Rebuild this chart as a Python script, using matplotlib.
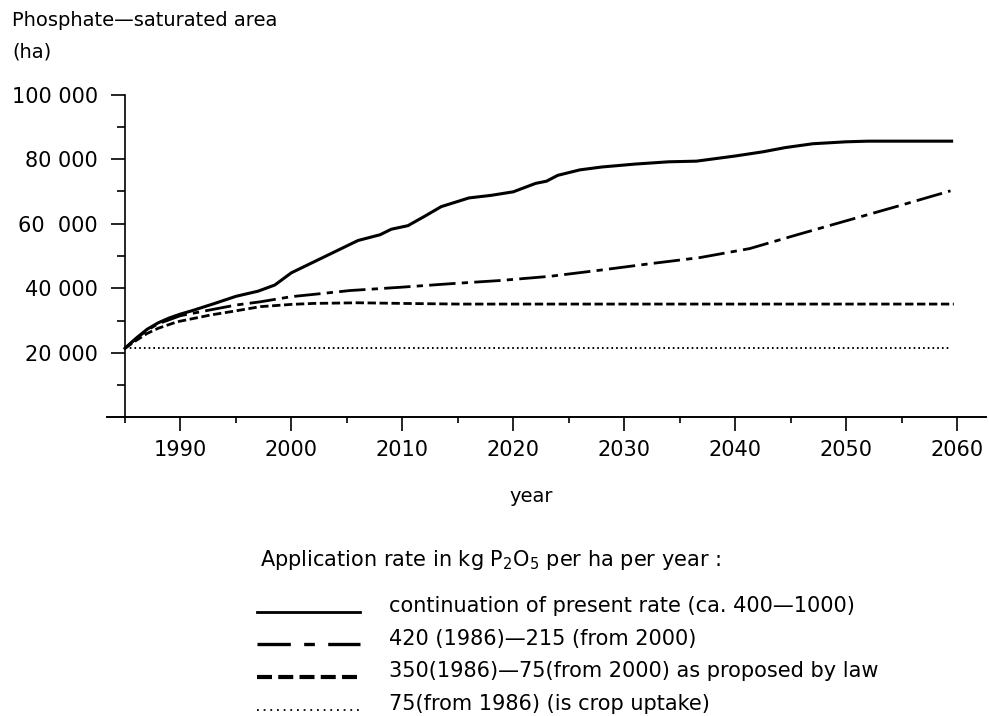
import matplotlib
matplotlib.use("Agg")
import numpy as np
import matplotlib.pyplot as plt
from matplotlib.lines import Line2D
from matplotlib.legend_handler import HandlerLine2D
from matplotlib.ticker import FixedLocator, MultipleLocator

plt.rcParams['font.family'] = ['DejaVu Sans']
plt.rcParams['mathtext.default'] = 'regular'
plt.rcParams['lines.scale_dashes'] = False

# continuation of present rate
yr_present = [1985, 1986, 1987, 1988, 1989, 1990, 1991, 1993, 1995, 1997, 1998.5, 2000,
              2003, 2006, 2008, 2009, 2010.5, 2012, 2013.5, 2016, 2018, 2020, 2022, 2023,
              2024, 2026, 2028, 2031, 2034, 2036.5, 2040, 2042.5, 2044.5, 2047, 2050,
              2052, 2059.5]
ha_present = [21400, 24500, 27300, 29300, 30800, 32000, 33000, 35200, 37500, 39100, 41000,
              44800, 49800, 54800, 56600, 58300, 59400, 62300, 65300, 68000, 68800, 69900,
              72500, 73200, 75000, 76700, 77600, 78500, 79200, 79400, 81000, 82300, 83600,
              84800, 85400, 85600, 85600]

# 420 (1986) - 215 (from 2000)
yr_420 = [1985, 1986, 1987, 1988, 1990, 1992.7, 1995, 1997.2, 2000, 2002, 2005.3, 2009.8,
          2014.3, 2018.8, 2023.3, 2027.8, 2032.3, 2036.8, 2041.3, 2045.8, 2050.4, 2054.9,
          2059.4]
ha_420 = [21400, 24400, 27000, 29000, 31500, 33300, 34800, 35800, 37400, 38100, 39300,
          40300, 41400, 42400, 43700, 45600, 47600, 49500, 52300, 56800, 61300, 65700,
          70200]

# 350 (1986) - 75 (from 2000)
yr_350 = [1985, 1986, 1987, 1988, 1989.7, 1992.7, 1995, 1997.2, 2000, 2002, 2006, 2010,
          2015, 2059.7]
ha_350 = [21400, 23800, 26000, 27600, 29600, 31700, 33000, 34300, 35000, 35300, 35500,
          35300, 35100, 35100]

# 75 (crop uptake)
yr_75 = [1985, 2059.4]
ha_75 = [21400, 21400]

labels = ['continuation of present rate (ca. 400\u20141000)',
          '420 (1986)\u2014215 (from 2000)',
          '350(1986)\u201475(from 2000) as proposed by law',
          '75(from 1986) (is crop uptake)']

y_major = [20000, 40000, 60000, 80000, 100000]
y_labels = ['20 000', '40 000', '60  000', '80 000', '100 000']


class LowLine(HandlerLine2D):
    # legend sample lines sit a little under the middle of the text
    def create_artists(self, legend, orig_handle, xdescent, ydescent, width, height,
                       fontsize, trans):
        return super().create_artists(legend, orig_handle, xdescent, ydescent + 10,
                                      width, height, fontsize, trans)


fig = plt.figure(figsize=(9.89, 7.16), dpi=100)
ax = fig.add_axes([107 / 989, 1 - 417.3 / 716, 879 / 989, (417.3 - 94.7) / 716])

ax.plot(yr_present, ha_present, color='black', lw=2.2)
ax.plot(yr_420, ha_420, color='black', lw=2.0, linestyle=(0, (19, 4.5, 4.5, 4.5)))
ax.plot(yr_350, ha_350, color='black', lw=2.0, linestyle=(0, (6, 2.6)))
ax.plot(yr_75, ha_75, color='black', lw=1.4, linestyle=(0, (1.2, 2.2)))

ax.set_xlim(1983.38, 2062.6)
ax.set_ylim(0, 100000)
ax.spines['top'].set_visible(False)
ax.spines['right'].set_visible(False)
ax.spines['left'].set_position(('data', 1985))
ax.spines['left'].set_linewidth(1.2)
ax.spines['bottom'].set_linewidth(1.4)

ax.xaxis.set_major_locator(MultipleLocator(10))
ax.xaxis.set_minor_locator(FixedLocator([1985, 1995, 2005, 2015, 2025, 2035, 2045, 2055]))
ax.yaxis.set_major_locator(FixedLocator(y_major))
ax.yaxis.set_minor_locator(FixedLocator([10000, 30000, 50000, 70000, 90000]))
ax.set_yticklabels(y_labels)
ax.set_xticks([1990, 2000, 2010, 2020, 2030, 2040, 2050, 2060])
ax.tick_params(axis='x', which='major', length=10, width=1.2, pad=6, labelsize=15)
ax.tick_params(axis='x', which='minor', length=4.5, width=1.2)
ax.tick_params(axis='y', which='major', length=10, width=1.2, pad=9.4, labelsize=15)
ax.tick_params(axis='y', which='minor', length=6, width=1.2)

ax.set_xlabel('year', fontsize=14)
ax.xaxis.set_label_coords((531 - 107) / 879, -(496 - 417.3) / (417.3 - 94.7))
ax.xaxis.label.set_va('center')

fig.text(12 / 989, 1 - 26 / 716, 'Phosphate\u2014saturated area', fontsize=14,
         va='baseline', ha='left')
fig.text(12 / 989, 1 - 58 / 716, '(ha)', fontsize=14, va='baseline', ha='left')

fig.text(260 / 989, 1 - 566 / 716,
         'Application rate in kg $\\mathregular{P_2O_5}$ per ha per year :',
         fontsize=15, va='baseline', ha='left')

handles = [
    Line2D([], [], color='black', lw=2.0),
    Line2D([], [], color='black', lw=2.4, linestyle=(0, (24, 9.6, 7.7, 9.6))),
    Line2D([], [], color='black', lw=3.0, linestyle=(0, (10.8, 4.5))),
    Line2D([], [], color='black', lw=1.3, linestyle=(0, (1.3, 3.5))),
]
fig.legend(handles, labels, loc='upper left', bbox_to_anchor=(257 / 989, 1 - 596 / 716),
           frameon=False, fontsize=15, handlelength=4.94, handletextpad=1.39,
           labelspacing=0.61, borderpad=0, borderaxespad=0,
           handler_map={Line2D: LowLine()})

fig.savefig('out.png', dpi=100)
